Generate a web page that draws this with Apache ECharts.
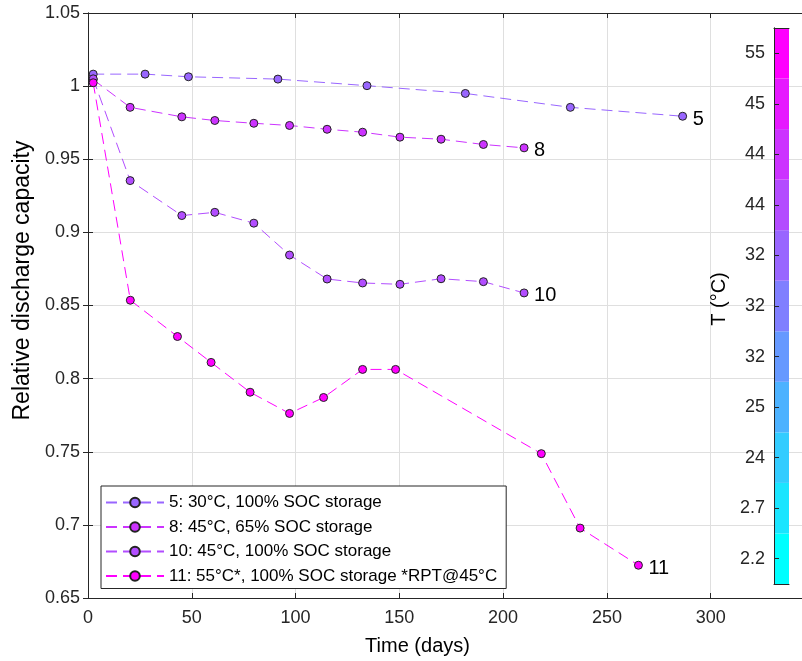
<!DOCTYPE html>
<html>
<head>
<meta charset="utf-8">
<script src="https://cdn.jsdelivr.net/npm/echarts@6/dist/echarts.min.js"></script>
<style>
html,body{margin:0;padding:0;background:#fff;}
#chart{width:802px;height:661px;}
</style>
</head>
<body>
<div id="chart"></div>
<script>
// ---- data ----
const seriesNames = [
  '5: 30\u00b0C, 100% SOC storage',
  '8: 45\u00b0C, 65% SOC storage',
  '10: 45\u00b0C, 100% SOC storage',
  '11: 55\u00b0C*, 100% SOC storage *RPT@45\u00b0C'
];
const endTags = ['5', '8', '10', '11'];

const days5 = [2.5, 27.5, 48.4, 91.5, 134.4, 181.8, 232.4, 286.5];
const cap5  = [1.0082, 1.0082, 1.0064, 1.0048, 1.0003, 0.9950, 0.9855, 0.9794];

const days8 = [2.5, 20.3, 45.2, 61.1, 79.9, 97.1, 115.2, 132.3, 150.3, 170.1, 190.5, 210.1];
const cap8  = [1.0045, 0.9855, 0.9790, 0.9765, 0.9746, 0.9731, 0.9705, 0.9685, 0.9651, 0.9637, 0.9601, 0.9578];

const days10 = [2.5, 20.3, 45.2, 61.1, 79.9, 97.1, 115.2, 132.3, 150.3, 170.1, 190.5, 210.1];
const cap10  = [1.0050, 0.9354, 0.9115, 0.9137, 0.9063, 0.8845, 0.8681, 0.8654, 0.8645, 0.8683, 0.8663, 0.8586];

const days11 = [2.5, 20.4, 43.1, 59.3, 78.1, 97.1, 113.5, 132.3, 148.2, 218.4, 237.1, 265.2];
const cap11  = [1.0023, 0.8536, 0.8288, 0.8111, 0.7907, 0.7762, 0.7871, 0.8063, 0.8063, 0.7487, 0.6978, 0.6724];

// colorbar tick labels, bottom to top
const cbarLabels = ['2.2', '2.7', '24', '25', '32', '32', '32', '44', '44', '45', '55'];

// ---- styles ----
const seriesColors = ['#9966FF', '#CC33FF', '#B24DFF', '#FF00FF'];
const FONT = 'Liberation Sans, Arial, Helvetica, sans-serif';
const AX = '#262626';
const GRID = '#dfdfdf';

function coolColor(t) {
  const r = Math.round(255 * t);
  const g = 255 - r;
  return 'rgb(' + r + ',' + g + ',255)';
}

const allDays = [days5, days8, days10, days11];
const allCaps = [cap5, cap8, cap10, cap11];

const lineSeries = allDays.map(function (d, i) {
  return {
    name: seriesNames[i],
    type: 'line',
    xAxisIndex: 0,
    yAxisIndex: 0,
    data: d.map(function (x, k) { return [x, allCaps[i][k]]; }),
    symbol: 'circle',
    symbolSize: 8,
    showAllSymbol: true,
    z: 3 + i,
    lineStyle: { color: seriesColors[i], width: 1, type: [11, 6] },
    itemStyle: { color: seriesColors[i], borderColor: '#222', borderWidth: 1 },
    endLabel: {
      show: true,
      formatter: endTags[i],
      color: '#000',
      fontSize: 20,
      fontFamily: FONT,
      distance: 10,
      offset: [0, 3]
    },
    animation: false
  };
});

const cbarSeries = {
  type: 'bar',
  xAxisIndex: 2,
  yAxisIndex: 2,
  barCategoryGap: 0,
  silent: true,
  z: 8,
  data: cbarLabels.map(function (_, k) {
    return { value: 1, itemStyle: { color: coolColor(k / (cbarLabels.length - 1)) } };
  }),
  animation: false
};

const cbarEdge = { show: true, lineStyle: { color: AX, width: 1 } };

const option = {
  backgroundColor: '#fff',
  animation: false,
  textStyle: { fontFamily: FONT },
  grid: [
    { left: 88, top: 13, right: 0, bottom: 61, containLabel: false },
    { left: 774, top: 28, width: 15, height: 556 }
  ],
  legend: {
    orient: 'vertical',
    left: 101,
    top: 486,
    padding: [8, 9, 4, 4],
    itemGap: 7.5,
    itemWidth: 58,
    itemHeight: 12,
    backgroundColor: '#fff',
    borderColor: AX,
    borderWidth: 1,
    textStyle: { fontSize: 17, fontFamily: FONT, color: '#000', lineHeight: 16 },
    data: seriesNames
  },
  xAxis: [
    {
      type: 'value', gridIndex: 0, min: 0, max: 344, interval: 50, position: 'bottom',
      name: 'Time (days)', nameLocation: 'middle', nameGap: 38,
      nameTextStyle: { fontSize: 20, fontFamily: FONT, color: '#000', padding: [0, 55, 0, 0] },
      axisLine: { show: true, lineStyle: { color: AX, width: 1 } },
      axisTick: { show: true, inside: true, length: 5, lineStyle: { color: AX } },
      axisLabel: { fontSize: 18, fontFamily: FONT, color: AX, margin: 11, showMaxLabel: false },
      splitLine: { show: true, lineStyle: { color: GRID, width: 1 } }
    },
    {
      type: 'value', gridIndex: 0, min: 0, max: 344, interval: 50, position: 'top',
      axisLine: { show: true, lineStyle: { color: AX, width: 1 } },
      axisTick: { show: true, inside: true, length: 5, lineStyle: { color: AX } },
      axisLabel: { show: false },
      splitLine: { show: false }
    },
    {
      type: 'value', gridIndex: 1, min: 0, max: 1, position: 'bottom', z: 20,
      axisLine: cbarEdge, axisTick: { show: false }, axisLabel: { show: false }, splitLine: { show: false }
    },
    {
      type: 'value', gridIndex: 1, min: 0, max: 1, position: 'top', z: 20,
      axisLine: cbarEdge, axisTick: { show: false }, axisLabel: { show: false }, splitLine: { show: false }
    }
  ],
  yAxis: [
    {
      type: 'value', gridIndex: 0, min: 0.65, max: 1.05, interval: 0.05, position: 'left',
      name: 'Relative discharge capacity', nameLocation: 'middle', nameGap: 51,
      nameTextStyle: { fontSize: 23, fontFamily: FONT, color: '#000', padding: [0, 0, 0, 50] },
      axisLine: { show: true, lineStyle: { color: AX, width: 1 } },
      axisTick: { show: true, inside: true, length: 5, lineStyle: { color: AX } },
      axisLabel: {
        fontSize: 18, fontFamily: FONT, color: AX, margin: 8,
        formatter: function (v) { return String(+v.toFixed(2)); }
      },
      splitLine: { show: true, lineStyle: { color: GRID, width: 1 } }
    },
    {
      type: 'value', gridIndex: 0, min: 0.65, max: 1.05, interval: 0.05, position: 'right',
      axisLine: { show: true, lineStyle: { color: AX, width: 1 } },
      axisTick: { show: true, inside: true, length: 5, lineStyle: { color: AX } },
      axisLabel: { show: false },
      splitLine: { show: false }
    },
    {
      type: 'category', gridIndex: 1, position: 'left', z: 20,
      data: cbarLabels.map(function (_, k) { return String(k); }),
      name: 'T (\u00b0C)', nameLocation: 'middle', nameGap: 45,
      nameTextStyle: { fontSize: 20, fontFamily: FONT, color: '#000', padding: [0, 0, 0, 14] },
      axisLine: cbarEdge,
      axisTick: { show: true, inside: true, alignWithLabel: true, length: 5, lineStyle: { color: AX } },
      axisLabel: {
        fontSize: 18, fontFamily: FONT, color: AX, margin: 9,
        formatter: function (v, idx) { return cbarLabels[idx]; }
      },
      splitLine: { show: false }
    },
    {
      type: 'category', gridIndex: 1, position: 'right', z: 20,
      data: cbarLabels.map(function (_, k) { return String(k); }),
      axisLine: cbarEdge, axisTick: { show: false }, axisLabel: { show: false }, splitLine: { show: false }
    }
  ],
  series: lineSeries.concat([cbarSeries])
};

const chart = echarts.init(document.getElementById('chart'), null, { renderer: 'canvas' });
chart.setOption(option);
</script>
</body>
</html>
